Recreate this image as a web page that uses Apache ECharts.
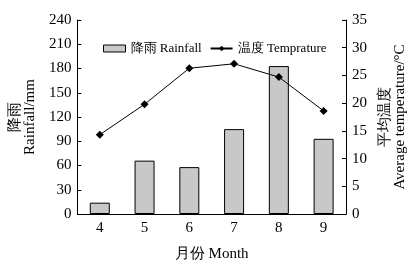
<!DOCTYPE html>
<html>
<head>
<meta charset="utf-8">
<script src="https://cdn.jsdelivr.net/npm/echarts@6/dist/echarts.min.js"></script>
<style>
  html, body { margin: 0; padding: 0; background: #fff; }
  #chart { width: 416px; height: 267px; }
</style>
</head>
<body>
<div id="chart"></div>
<script>
// data
const months = ['4', '5', '6', '7', '8', '9'];
const rainfall = [14, 66, 58, 105, 183, 93];
const temperature = [14.3, 19.8, 26.3, 27.1, 24.7, 18.6];

const font = 'Liberation Serif';

const chart = echarts.init(document.getElementById('chart'));

chart.setOption({
  animation: false,
  textStyle: { fontFamily: font, color: '#000' },
  grid: { left: 69, right: 70, top: 20, bottom: 47 },
  legend: {
    top: 37,
    left: 98,
    itemGap: 8,
    itemWidth: 22,
    itemHeight: 7,
    textStyle: { fontFamily: font, fontSize: 13, color: '#000' },
    data: [
      { name: '降雨 Rainfall', icon: 'rect', itemStyle: { color: '#c8c8c8', borderColor: '#000', borderWidth: 1 } },
      { name: '温度 Temprature' }
    ]
  },
  xAxis: {
    type: 'category',
    data: months,
    name: '月份 Month',
    nameLocation: 'middle',
    nameGap: 33,
    nameTextStyle: { fontFamily: font, fontSize: 15, color: '#000' },
    axisLine: { lineStyle: { color: '#000', width: 1 } },
    axisTick: { inside: true, length: 4, lineStyle: { color: '#000' } },
    axisLabel: { fontFamily: font, fontSize: 15, color: '#000', margin: 7 }
  },
  yAxis: [
    {
      type: 'value',
      min: 0, max: 240, interval: 30,
      name: '降雨\nRainfall/mm',
      nameLocation: 'middle',
      nameRotate: 90,
      nameGap: 31,
      nameTextStyle: { fontFamily: font, fontSize: 15, color: '#000', lineHeight: 15 },
      axisLine: { show: true, lineStyle: { color: '#000', width: 1 } },
      axisTick: { show: true, inside: true, length: 4, lineStyle: { color: '#000' } },
      axisLabel: { fontFamily: font, fontSize: 15, color: '#000', margin: 6 },
      splitLine: { show: false }
    },
    {
      type: 'value',
      min: 0, max: 35, interval: 5,
      position: 'right',
      name: '平均温度\nAverage temperature/°C',
      nameLocation: 'middle',
      nameRotate: 90,
      nameGap: 32,
      nameTextStyle: { fontFamily: font, fontSize: 15, color: '#000', lineHeight: 15 },
      axisLine: { show: true, lineStyle: { color: '#000', width: 1 } },
      axisTick: { show: true, inside: true, length: 4, lineStyle: { color: '#000' } },
      axisLabel: { fontFamily: font, fontSize: 15, color: '#000', margin: 6 },
      splitLine: { show: false }
    }
  ],
  series: [
    {
      name: '降雨 Rainfall',
      type: 'bar',
      data: rainfall,
      barWidth: 20,
      itemStyle: { color: '#c8c8c8', borderColor: '#000', borderWidth: 1 }
    },
    {
      name: '温度 Temprature',
      type: 'line',
      yAxisIndex: 1,
      data: temperature,
      symbol: 'diamond',
      symbolSize: 8,
      lineStyle: { color: '#000', width: 1 },
      itemStyle: { color: '#000' }
    }
  ]
});
</script>
</body>
</html>
